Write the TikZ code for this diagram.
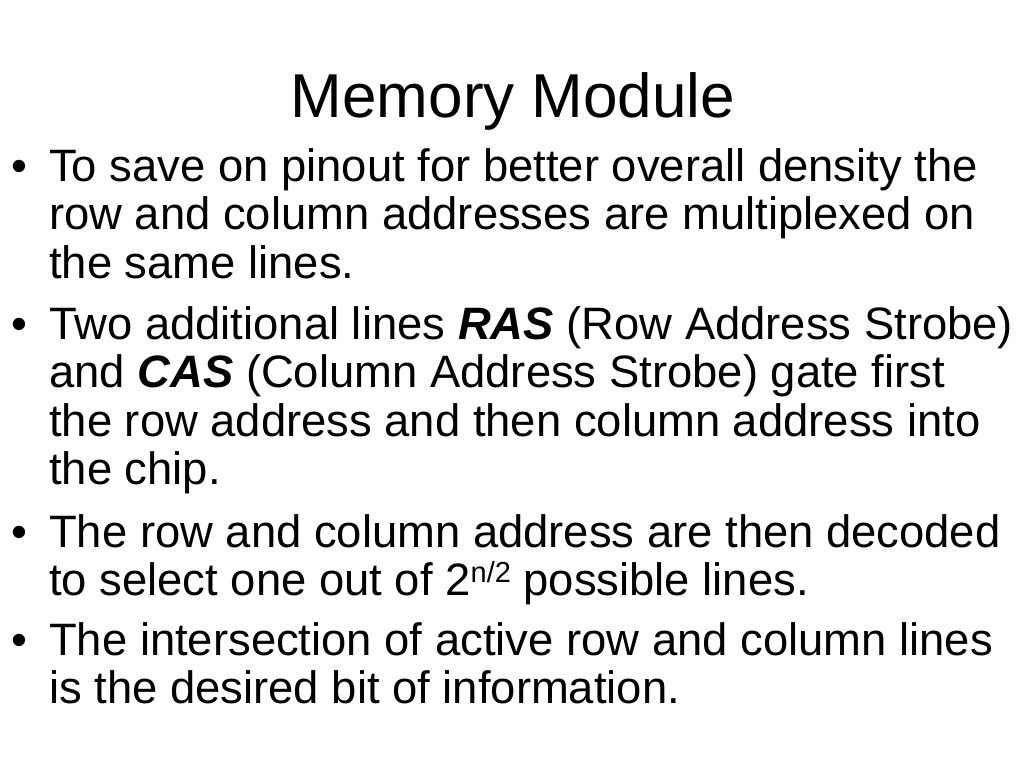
\documentclass[tikz,border=0pt]{standalone}
\usepackage{fontspec}
\setmainfont{Liberation Sans}
\usetikzlibrary{positioning}

\newcommand{\supsm}[1]{\raisebox{13pt}{\fontsize{29}{29}\selectfont #1}}

\begin{document}
\begin{tikzpicture}[x=1pt, y=-1pt,
  line/.style={anchor=base west, inner sep=0pt, font=\fontsize{45.4}{48.5}\selectfont},
  bul/.style={anchor=base west, inner sep=0pt, font=\fontsize{45.4}{48.5}\selectfont}]
\useasboundingbox[fill=white] (0,0) rectangle (1024,768);
\node (title) [anchor=base, inner sep=0pt, font=\fontsize{62}{70}\selectfont] at (513,117) {Memory Module};
% first point
\node (b1) [bul] at (11,181) {\textbullet};
\node (p1a) [line] at (49,181) {To save on pinout for better overall density the};
\node (p1b) [line] at (49,229.5) {row and column addresses are multiplexed on};
\node (p1c) [line] at (49,278) {the same lines.};
% second point
\node (b2) [bul] at (11,339) {\textbullet};
\node (p2a) [line] at (49,339) {Two additional lines \textbf{\textit{RAS}} (Row Address Strobe)};
\node (p2b) [line] at (49,387.5) {and \textbf{\textit{CAS}} (Column Address Strobe) gate first};
\node (p2c) [line] at (49,436) {the row address and then column address into};
\node (p2d) [line] at (49,484.5) {the chip.};
% third point
\node (b3) [bul] at (11,547) {\textbullet};
\node (p3a) [line] at (49,547) {The row and column address are then decoded};
\node (p3b) [line] at (49,595.5) {to select one out of 2\supsm{n/2} possible lines.};
% fourth point
\node (b4) [bul] at (11,655) {\textbullet};
\node (p4a) [line] at (49,655) {The intersection of active row and column lines};
\node (p4b) [line] at (49,703.5) {is the desired bit of information.};
\end{tikzpicture}
\end{document}
